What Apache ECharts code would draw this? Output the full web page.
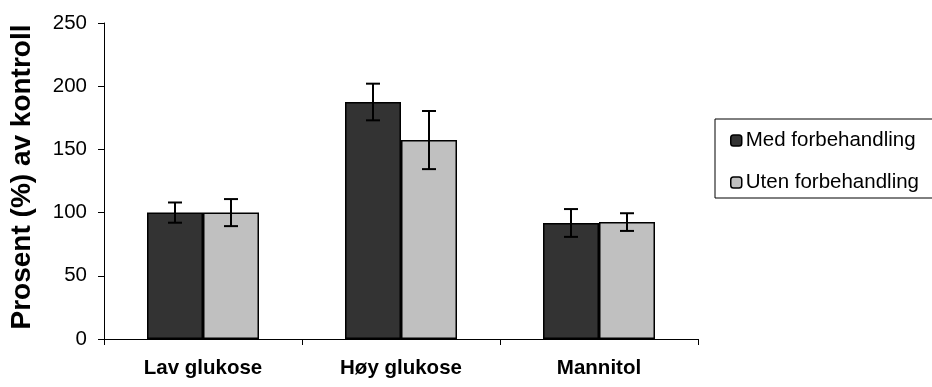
<!DOCTYPE html>
<html>
<head>
<meta charset="utf-8">
<script src="https://cdn.jsdelivr.net/npm/echarts@6/dist/echarts.min.js"></script>
<style>
  html, body { margin: 0; padding: 0; background: #ffffff; }
  #chart { width: 932px; height: 387px; }
</style>
</head>
<body>
<div id="chart"></div>
<script>
// Categories, mean values (% of control) and error margins
const categories = ['Lav glukose', 'Høy glukose', 'Mannitol'];
const seriesNames = ['Med forbehandling', 'Uten forbehandling'];
const medValues = [100, 187.5, 91.8];
const utenValues = [100, 157.4, 92.5];
const medErr = [8, 14.5, 11];
const utenErr = [10.7, 23, 7];
const yTicks = [0, 50, 100, 150, 200, 250];

const FONT = '"Liberation Sans", Arial, sans-serif';
const BAR_W = 56;

function errorData(values, errs) {
  return values.map((v, i) => [i, v - errs[i], v + errs[i]]);
}

function errorSeries(name, values, errs, offset) {
  return {
    type: 'custom',
    name: name + ' feil',
    z: 10,
    silent: true,
    data: errorData(values, errs),
    encode: { x: 0, y: [1, 2] },
    renderItem: function (params, api) {
      const i = api.value(0);
      const lo = api.coord([i, api.value(1)]);
      const hi = api.coord([i, api.value(2)]);
      const x = lo[0] + offset * BAR_W / 2;
      const cap = 7;
      const style = { stroke: '#000', lineWidth: 2, fill: null };
      return {
        type: 'group',
        children: [
          { type: 'line', shape: { x1: x, y1: lo[1], x2: x, y2: hi[1] }, style: style },
          { type: 'line', shape: { x1: x - cap, y1: hi[1], x2: x + cap, y2: hi[1] }, style: style },
          { type: 'line', shape: { x1: x - cap, y1: lo[1], x2: x + cap, y2: lo[1] }, style: style }
        ]
      };
    }
  };
}

const chart = echarts.init(document.getElementById('chart'), null, { renderer: 'canvas' });

chart.setOption({
  animation: false,
  backgroundColor: '#ffffff',
  textStyle: { fontFamily: FONT, color: '#000' },
  grid: { left: 104, right: 234, top: 23, bottom: 48, containLabel: false },
  legend: {
    data: seriesNames,
    orient: 'vertical',
    left: 715,
    top: 119,
    padding: [11, 20, 5, 15],
    itemGap: 21,
    itemWidth: 11,
    itemHeight: 11,
    borderColor: '#000',
    borderWidth: 1,
    textStyle: { fontFamily: FONT, fontSize: 20.5, color: '#000', padding: [0, 0, 0, -1] },
    itemStyle: { borderColor: '#000', borderWidth: 1.5 }
  },
  xAxis: {
    type: 'category',
    data: categories,
    axisLine: { lineStyle: { color: '#000', width: 1 } },
    axisTick: { show: true, length: 6, lineStyle: { color: '#000' }, alignWithLabel: false },
    axisLabel: {
      fontFamily: FONT, fontSize: 20.5, fontWeight: 'bold', color: '#000', margin: 19
    },
    splitLine: { show: false }
  },
  yAxis: {
    type: 'value',
    min: yTicks[0],
    max: yTicks[yTicks.length - 1],
    interval: yTicks[1] - yTicks[0],
    name: 'Prosent (%) av kontroll',
    nameLocation: 'middle',
    nameGap: 68,
    nameTextStyle: {
      fontFamily: FONT, fontSize: 28, fontWeight: 'bold', color: '#000', padding: [0, 0, 0, 8]
    },
    axisLine: { show: true, lineStyle: { color: '#000', width: 1 } },
    axisTick: { show: true, inside: false, length: 6, lineStyle: { color: '#000' } },
    axisLabel: { fontFamily: FONT, fontSize: 20.5, color: '#000', margin: 17 },
    splitLine: { show: false }
  },
  series: [
    {
      type: 'bar',
      name: seriesNames[0],
      data: medValues,
      barWidth: BAR_W,
      barGap: '0%',
      itemStyle: { color: '#333333', borderColor: '#000', borderWidth: 1.5 }
    },
    {
      type: 'bar',
      name: seriesNames[1],
      data: utenValues,
      barWidth: BAR_W,
      barGap: '0%',
      itemStyle: { color: '#c0c0c0', borderColor: '#000', borderWidth: 1.5 }
    },
    errorSeries(seriesNames[0], medValues, medErr, -1),
    errorSeries(seriesNames[1], utenValues, utenErr, 1)
  ]
});
</script>
</body>
</html>
